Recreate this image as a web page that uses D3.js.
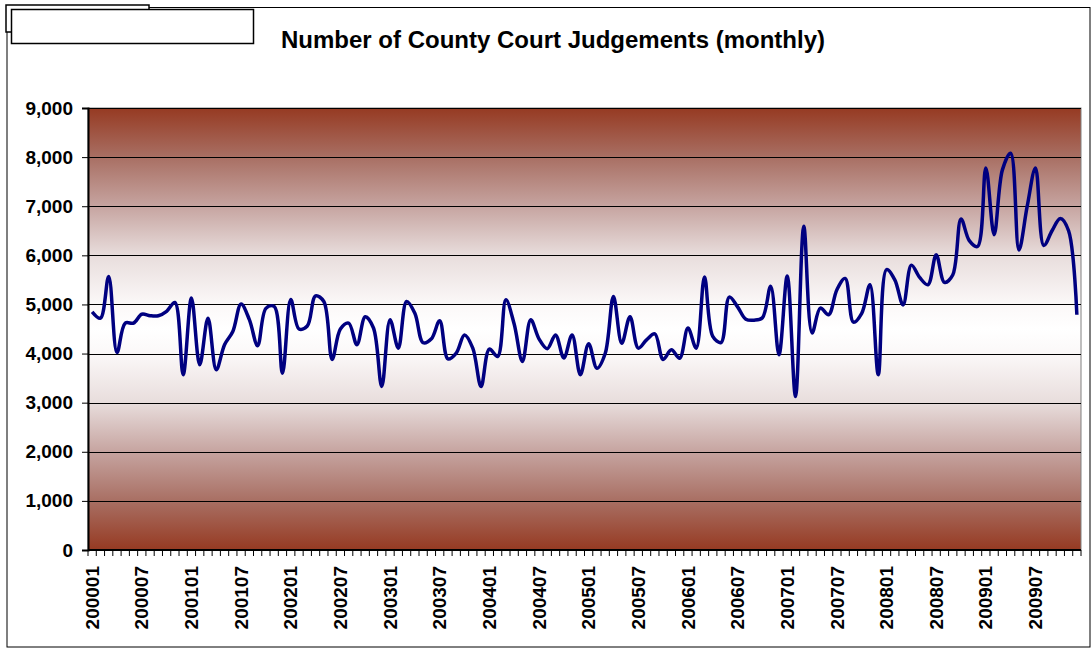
<!DOCTYPE html>
<html>
<head>
<meta charset="utf-8">
<script src="https://cdn.jsdelivr.net/npm/d3@7/dist/d3.min.js"></script>
<style>
  body { margin: 0; background: #fff; }
  text { font-family: "Liberation Sans", Arial, sans-serif; font-weight: bold; fill: #000; }
</style>
</head>
<body>
<svg id="chart" width="1092" height="649"></svg>
<script>
'use strict';

var years = ["2000", "2001", "2002", "2003", "2004", "2005", "2006", "2007", "2008", "2009"];
var monthCodes = ["01", "02", "03", "04", "05", "06", "07", "08", "09", "10", "11", "12"];

// judgements per month, Jan 2000 .. Dec 2009
var judgements = [
    4850, 4720, 5570, 4020, 4620, 4620, 4800, 4770, 4770, 4860, 5040, 3570,
    5130, 3770, 4720, 3670, 4180, 4450, 5010, 4690, 4160, 4920, 4960, 3600,
    5100, 4500, 4560, 5175, 5060, 3880, 4500, 4620, 4180, 4750, 4520, 3330,
    4690, 4110, 5060, 4820, 4220, 4300, 4670, 3890, 4010, 4380, 4110, 3330,
    4090, 3940, 5095, 4600, 3840, 4690, 4300, 4100, 4380, 3910, 4380, 3570,
    4200, 3700, 4000, 5160, 4210, 4750, 4110, 4280, 4400, 3880, 4075, 3905,
    4520, 4110, 5560, 4350, 4225, 5150, 4950, 4700, 4680, 4730, 5370, 3975,
    5580, 3125, 6590, 4420, 4925, 4790, 5300, 5530, 4640, 4820, 5400, 3570,
    5710, 5500, 4990, 5800, 5550, 5400, 6010, 5450, 5600, 6740, 6300, 6180,
    7780, 6420, 7740, 8080, 6110, 7000, 7780, 6200, 6500, 6750, 6500, 4790
];

var tickLabels = ["200001", "200007", "200101", "200107", "200201", "200207",
    "200301", "200307", "200401", "200407", "200501", "200507", "200601",
    "200607", "200701", "200707", "200801", "200807", "200901", "200907"];
var yTicks = [0, 1000, 2000, 3000, 4000, 5000, 6000, 7000, 8000, 9000];
var title = "Number of County Court Judgements (monthly)";

var months = [];
years.forEach(function(y) {
    monthCodes.forEach(function(m) { months.push(y + m); });
});
var data = months.map(function(m, i) { return {month: m, value: judgements[i]}; });

var plot = {left: 88, right: 1081, top: 108, bottom: 550};

var svg = d3.select("#chart");

// outer frame and the empty boxes at top left
svg.append("rect")
    .attr("x", 7).attr("y", 7.5).attr("width", 1083).attr("height", 639.5)
    .style("fill", "#fff").style("stroke", "#000").style("stroke-width", 1);
svg.append("rect")
    .attr("x", 6).attr("y", 5).attr("width", 143).attr("height", 27)
    .style("fill", "#fff").style("stroke", "#000").style("stroke-width", 1.5);
svg.append("rect")
    .attr("x", 11.5).attr("y", 9.5).attr("width", 242).attr("height", 34)
    .style("fill", "#fff").style("stroke", "#000").style("stroke-width", 1.5);

svg.append("text")
    .attr("x", 553).attr("y", 48)
    .style("text-anchor", "middle")
    .style("font-size", "24px")
    .text(title);

var x = d3.scaleBand()
    .domain(months)
    .range([plot.left, plot.right])
    .padding(0);
var bw = x.bandwidth();

var y = d3.scaleLinear()
    .domain([0, 9000])
    .range([plot.bottom, plot.top]);

// plot area gradient: rust at top and bottom, white in the middle
var stops = [
    [0, "#963a22"], [0.109, "#a86e62"], [0.222, "#c6a4a0"], [0.333, "#e8dddc"],
    [0.443, "#fbf8f8"], [0.5, "#ffffff"], [0.557, "#fbf8f8"], [0.667, "#e8dddc"],
    [0.778, "#c6a4a0"], [0.891, "#a86e62"], [1, "#963a22"]
];
var grad = svg.append("defs").append("linearGradient")
    .attr("id", "bg").attr("x1", 0).attr("y1", 0).attr("x2", 0).attr("y2", 1);
grad.selectAll("stop")
    .data(stops)
    .enter().append("stop")
    .attr("offset", function(d) { return d[0]; })
    .attr("stop-color", function(d) { return d[1]; });

svg.append("rect")
    .attr("x", plot.left).attr("y", plot.top)
    .attr("width", plot.right - plot.left).attr("height", plot.bottom - plot.top)
    .style("fill", "url(#bg)")
    .style("stroke", "#808080").style("stroke-width", 1);

// gridlines
svg.append("g").selectAll("line")
    .data(yTicks.filter(function(d) { return d > 0; }))
    .enter().append("line")
    .attr("x1", plot.left).attr("x2", plot.right)
    .attr("y1", function(d) { return Math.round(y(d)) + 0.5; })
    .attr("y2", function(d) { return Math.round(y(d)) + 0.5; })
    .style("stroke", "#000").style("stroke-width", 1);

// y axis
var yAxis = svg.append("g")
    .attr("transform", "translate(" + plot.left + ",0)")
    .call(d3.axisLeft(y).tickValues(yTicks).tickSize(6).tickPadding(9).tickFormat(d3.format(",")));
yAxis.select(".domain").style("stroke", "#000").style("stroke-width", 2);
yAxis.selectAll(".tick line").style("stroke", "#000").style("stroke-width", 1);
yAxis.selectAll("text")
    .style("font-family", '"Liberation Sans", Arial, sans-serif')
    .style("font-weight", "bold")
    .style("font-size", "19px");

// x axis: a tick between every month, labels every six months
var xAxisG = svg.append("g");
xAxisG.selectAll("line.tick")
    .data(months.concat(["end"]))
    .enter().append("line")
    .attr("class", "tick")
    .attr("x1", function(d, i) { return plot.left + i * bw; })
    .attr("x2", function(d, i) { return plot.left + i * bw; })
    .attr("y1", plot.bottom).attr("y2", plot.bottom + 6)
    .style("stroke", "#000").style("stroke-width", 1);
xAxisG.append("line")
    .attr("x1", plot.left).attr("x2", plot.right)
    .attr("y1", plot.bottom).attr("y2", plot.bottom)
    .style("stroke", "#000").style("stroke-width", 2);
xAxisG.selectAll("text")
    .data(tickLabels)
    .enter().append("text")
    .attr("transform", function(d) {
        return "translate(" + (x(d) + bw / 2) + "," + (plot.bottom + 16) + ") rotate(-90)";
    })
    .attr("dy", "0.35em")
    .style("text-anchor", "end")
    .style("font-size", "19px")
    .text(function(d) { return d; });

// the series
var line = d3.line()
    .x(function(d) { return x(d.month) + bw / 2; })
    .y(function(d) { return y(d.value); })
    .curve(d3.curveCatmullRom.alpha(0.5));

svg.append("path")
    .datum(data)
    .attr("d", line)
    .style("fill", "none")
    .style("stroke", "#000080")
    .style("stroke-width", 3.5)
    .style("stroke-linejoin", "round");
</script>
</body>
</html>
